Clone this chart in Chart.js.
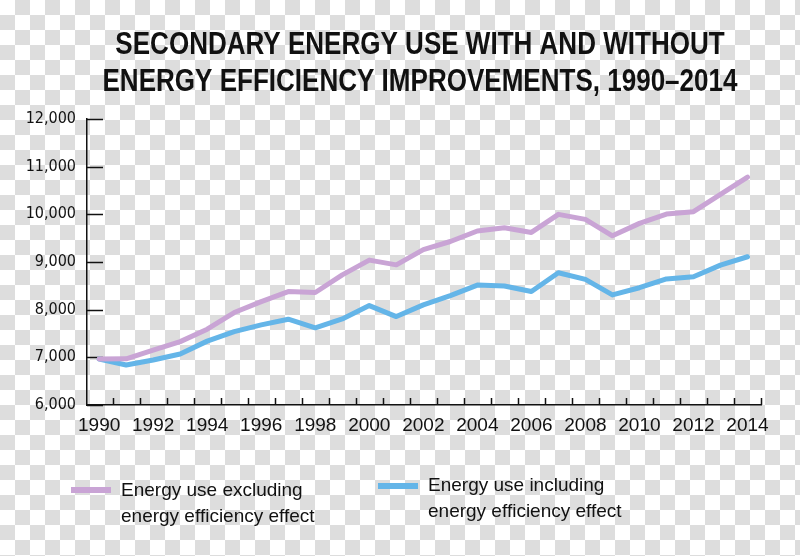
<!DOCTYPE html>
<html>
<head>
<meta charset="utf-8">
<script src="https://cdn.jsdelivr.net/npm/chart.js@4.4.1/dist/chart.umd.min.js"></script>
<style>
  html, body {
    margin: 0;
    padding: 0;
  }
  body {
    width: 800px;
    height: 556px;
    position: relative;
    overflow: hidden;
    background-color: #fff;
    background-image: conic-gradient(#dddddd 0 25%, #ffffff 0 50%, #dddddd 0 75%, #ffffff 0);
    background-size: 30px 30px;
  }
  #wrap {
    position: absolute;
    left: 0;
    top: 0;
    width: 800px;
    height: 556px;
  }
  .leg {
    position: absolute;
    font-family: "Liberation Sans", Arial, sans-serif;
    font-size: 19px;
    line-height: 26px;
    color: #111;
    white-space: pre-line;
  }
  .sw {
    position: absolute;
    width: 40px;
    height: 6px;
  }
</style>
</head>
<body>
<div id="wrap"><canvas id="chart" width="800" height="556"></canvas></div>
<div id="legend"></div>
<script>
// ======= Datos =======
const titulo = ["SECONDARY ENERGY USE WITH AND WITHOUT", "ENERGY EFFICIENCY IMPROVEMENTS, 1990\u20132014"];

const years = [1990, 1991, 1992, 1993, 1994, 1995, 1996, 1997, 1998, 1999, 2000, 2001, 2002,
               2003, 2004, 2005, 2006, 2007, 2008, 2009, 2010, 2011, 2012, 2013, 2014];

const sinEficiencia = [6965, 6970, 7150, 7330, 7590, 7940, 8170, 8380, 8360, 8730, 9040, 8940, 9260,
                       9430, 9650, 9720, 9620, 10000, 9895, 9550, 9810, 10005, 10055, 10420, 10780];

const conEficiencia = [6965, 6840, 6945, 7070, 7340, 7540, 7680, 7800, 7620, 7805, 8085, 7855, 8100,
                       8295, 8515, 8495, 8380, 8775, 8635, 8310, 8460, 8645, 8690, 8935, 9110];

const nombres = ["Energy use excluding\nenergy efficiency effect", "Energy use including\nenergy efficiency effect"];
const colores = ["#c9a4d5", "#64b5e8"];

const xLabels = [1990, 1992, 1994, 1996, 1998, 2000, 2002, 2004, 2006, 2008, 2010, 2012, 2014];
const yLabels = [6000, 7000, 8000, 9000, 10000, 11000, 12000];

const narrow = "'Liberation Sans Narrow', 'DejaVu Sans Condensed', sans-serif";
const regular = "'Liberation Sans', Arial, sans-serif";

// ======= Titulo condensado (dos lineas) =======
const tituloPlugin = {
  id: 'tituloCondensado',
  afterDraw(chart) {
    const ctx = chart.ctx;
    ctx.save();
    ctx.font = "bold 32px 'Liberation Sans', Arial, sans-serif";
    ctx.fillStyle = '#111';
    ctx.textAlign = 'center';
    ctx.textBaseline = 'alphabetic';
    const factor = 635 / ctx.measureText(titulo[1]).width; // ancho de la 2a linea en la imagen
    titulo.forEach((linea, i) => {
      ctx.fillText(linea, 420, 54 + i * 37, ctx.measureText(linea).width * factor);
    });
    ctx.restore();
  }
};

// ======= Marcas de eje hacia adentro =======
const marcasEje = {
  id: 'marcasEje',
  beforeDatasetsDraw(chart) {
    const { ctx, chartArea, scales } = chart;
    ctx.save();
    ctx.strokeStyle = '#111';
    ctx.lineWidth = 1.5;
    ctx.beginPath();
    yLabels.forEach(v => {
      const y = Math.round(scales.y.getPixelForValue(v)) + 0.5;
      ctx.moveTo(chartArea.left, y);
      ctx.lineTo(chartArea.left + 16, y);
    });
    years.forEach(yr => {
      const x = Math.round(scales.x.getPixelForValue(yr + 0.5)) + 0.5;
      ctx.moveTo(x, chartArea.bottom);
      ctx.lineTo(x, chartArea.bottom - 7);
    });
    ctx.stroke();
    ctx.restore();
  }
};

function serie(vals) {
  return years.map((yr, i) => ({ x: yr, y: vals[i] }));
}

const chart = new Chart(document.getElementById('chart'), {
  type: 'line',
  data: {
    datasets: [
      {
        label: nombres[0],
        data: serie(sinEficiencia),
        borderColor: colores[0],
        borderWidth: 5,
        pointRadius: 0,
        tension: 0,
        borderJoinStyle: 'round',
        borderCapStyle: 'round'
      },
      {
        label: nombres[1],
        data: serie(conEficiencia),
        borderColor: colores[1],
        borderWidth: 5,
        pointRadius: 0,
        tension: 0,
        borderJoinStyle: 'round',
        borderCapStyle: 'round'
      }
    ]
  },
  options: {
    responsive: false,
    animation: false,
    layout: { padding: { left: 0, right: 39, top: 119, bottom: 111 } },
    plugins: {
      legend: { display: false },
      tooltip: { enabled: false },
      title: { display: false }
    },
    scales: {
      x: {
        type: 'linear',
        min: 1989.55,
        max: 2014.5,
        afterBuildTicks: s => { s.ticks = xLabels.map(v => ({ value: v })); },
        afterFit: s => { s.height = 40; },
        grid: { display: false },
        border: { display: true, color: '#111', width: 1.5 },
        ticks: {
          color: '#111',
          padding: 1,
          maxRotation: 0,
          autoSkip: false,
          font: { family: regular, size: 19 },
          callback: v => String(v)
        }
      },
      y: {
        min: 6000,
        max: 12000,
        afterBuildTicks: s => { s.ticks = yLabels.map(v => ({ value: v })); },
        afterFit: s => { s.width = 87; },
        grid: { display: false },
        border: { display: true, color: '#111', width: 1.5 },
        ticks: {
          color: '#111',
          padding: 3,
          font: { family: narrow, size: 16 },
          callback: v => v.toLocaleString('en-US')
        }
      }
    }
  },
  plugins: [marcasEje, tituloPlugin]
});

// ======= Leyenda HTML =======
const posLeyenda = [
  { sw: [71, 487], txt: [121, 477] },
  { sw: [378, 483], txt: [428, 472] }
];
const legend = document.getElementById('legend');
chart.data.datasets.forEach((ds, i) => {
  const p = posLeyenda[i];
  const sw = document.createElement('div');
  sw.className = 'sw';
  sw.style.left = p.sw[0] + 'px';
  sw.style.top = p.sw[1] + 'px';
  sw.style.background = ds.borderColor;
  const t = document.createElement('div');
  t.className = 'leg';
  t.style.left = p.txt[0] + 'px';
  t.style.top = p.txt[1] + 'px';
  t.textContent = ds.label;
  legend.appendChild(sw);
  legend.appendChild(t);
});
</script>
</body>
</html>
